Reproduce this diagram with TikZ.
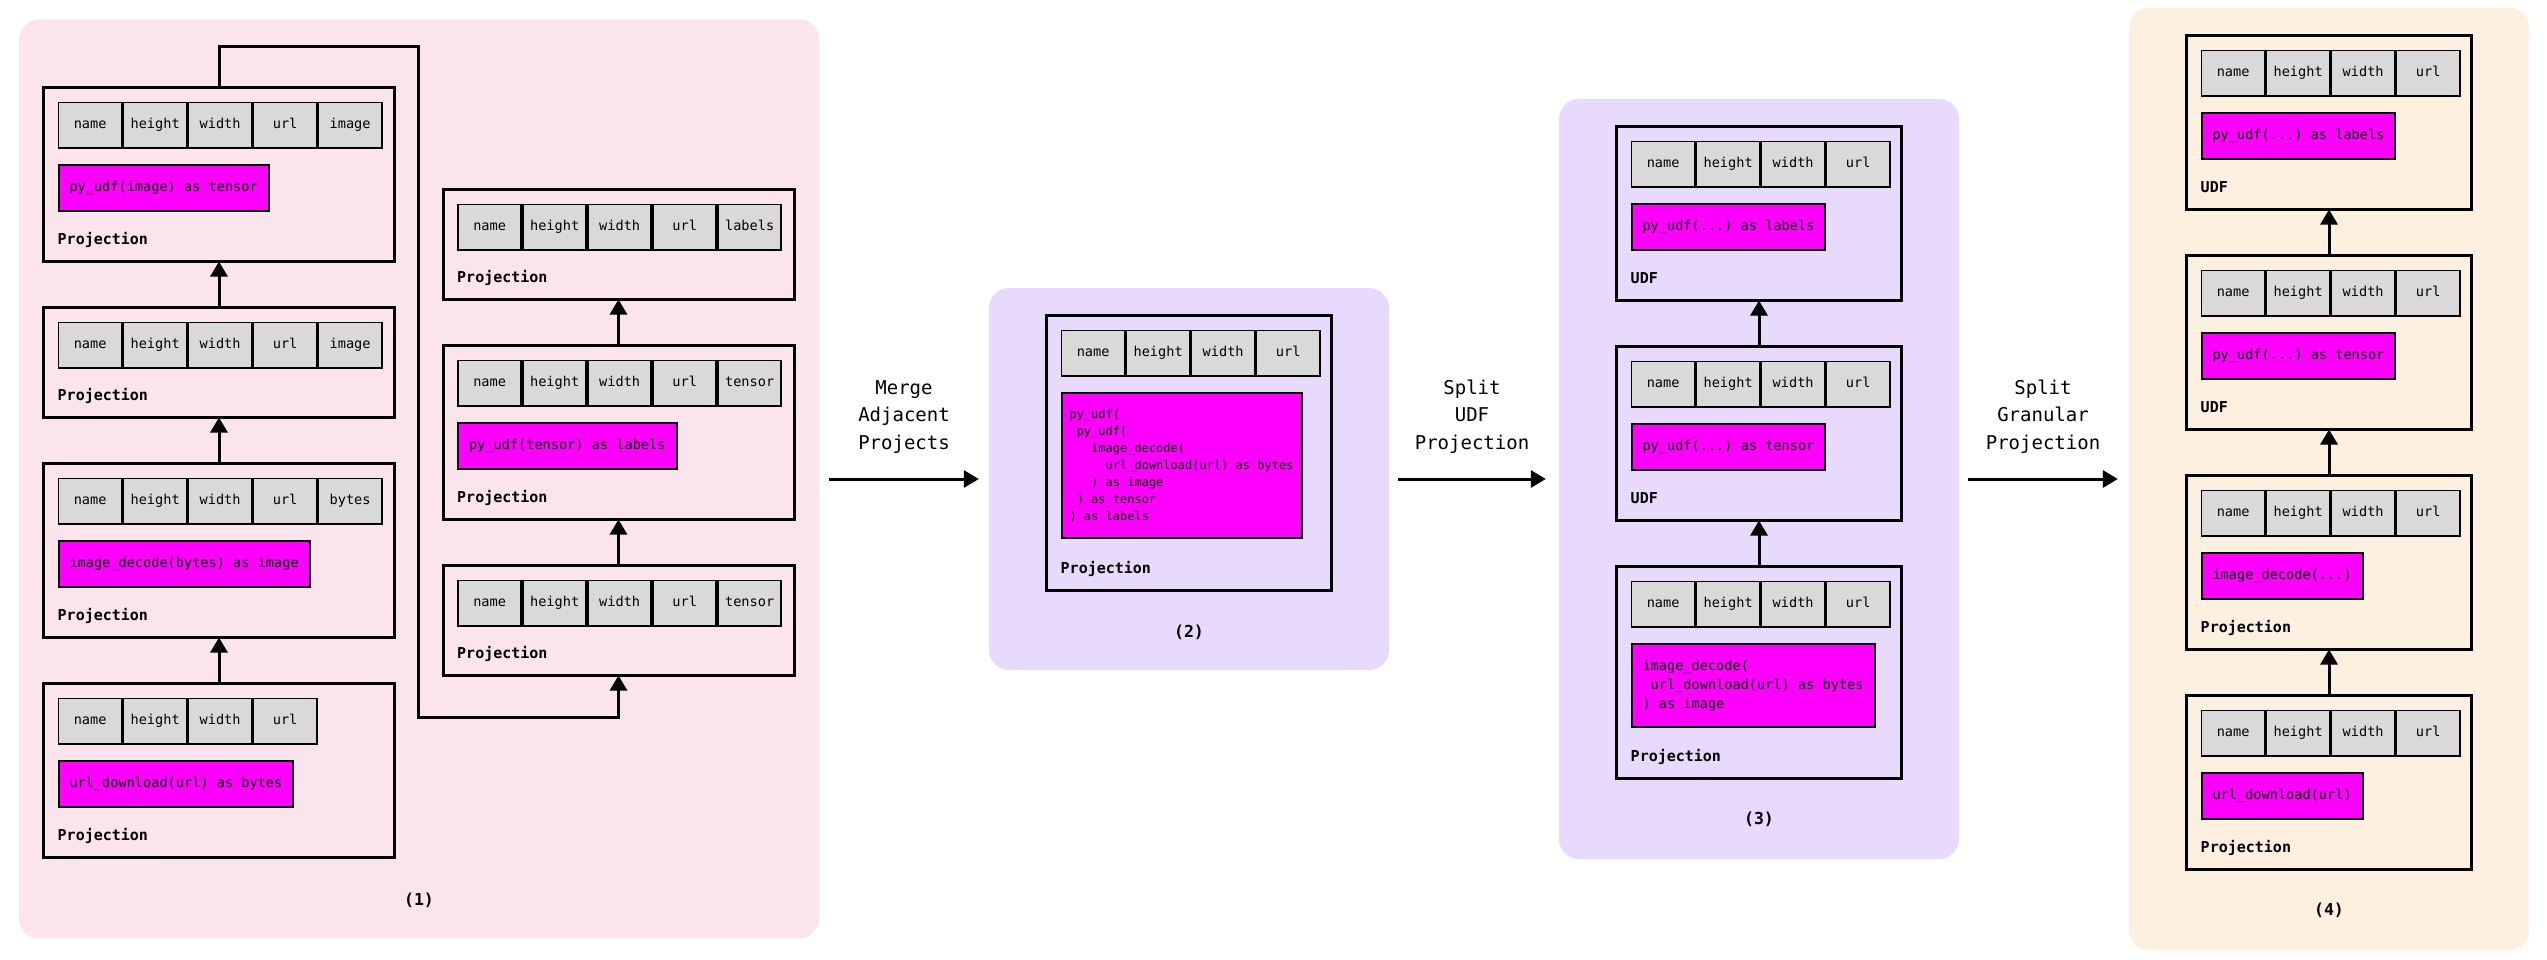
\documentclass[tikz,border=0pt]{standalone}
\usepackage{fontspec}
\setmonofont{DejaVu Sans Mono}
\usetikzlibrary{arrows.meta, positioning, backgrounds, calc}

\definecolor{planpink}{HTML}{FBE4EB}
\definecolor{planlilac}{HTML}{E8DAFC}
\definecolor{plancream}{HTML}{FEF0E0}
\definecolor{cellgray}{HTML}{D9D9D9}
\definecolor{udfmagenta}{HTML}{FF00FF}

% one row of column cells inside an operator box
\newcommand{\fields}[2]{%
  \foreach \fld [count=\i] in {#2}
    \node[field, anchor=north west] (#1-f\i) at ([xshift={15+65*(\i-1)}, yshift=-15]#1.north west) {\fld};%
}

\begin{document}
\begin{tikzpicture}[
    x=1pt, y=1pt,
    node distance=46pt,
    opbox/.style={rectangle, draw, line width=3pt, minimum width=351pt, minimum height=174pt, inner sep=0pt, outer sep=0pt},
    shortbox/.style={opbox, minimum height=110pt},
    narrowbox/.style={opbox, minimum width=285pt},
    field/.style={rectangle, draw, line width=1.7pt, fill=cellgray, minimum width=63.3pt, minimum height=45.3pt, inner sep=0pt, outer sep=0pt, text height=10pt, text depth=3pt, font=\ttfamily\fontsize{13.6}{17}\selectfont},
    udf/.style={rectangle, draw, line width=2pt, fill=udfmagenta, minimum height=46pt, inner xsep=11pt, inner ysep=0pt, outer sep=0pt, align=left, anchor=north west, font=\ttfamily\fontsize{13.6}{17}\selectfont},
    oplabel/.style={font=\ttfamily\bfseries\fontsize{15}{18}\selectfont, inner sep=0pt, anchor=west},
    paneltag/.style={font=\ttfamily\bfseries\fontsize{16.5}{20}\selectfont, inner sep=0pt},
    steptext/.style={font=\ttfamily\fontsize{19}{27.5}\selectfont, align=center, inner sep=0pt},
    arrow/.style={-{Triangle[length=15pt, width=17pt]}, line width=3pt},
    panel/.style={rectangle, rounded corners=20pt, inner sep=0pt},
]
\useasboundingbox (0,0) rectangle (2547,-959);

% ============ (1): original plan ============
\node[opbox, anchor=north] (a1) at (219,-87.5) {};
\fields{a1}{name,height,width,url,image}
\node[udf] (a1-u) at ([yshift=-17pt]a1-f1.south west) {py\_udf(image) as tensor};
\node[oplabel] (a1-l) at ([xshift=14pt, yshift=22pt]a1.south west) {Projection};

\node[shortbox, below=of a1] (a2) {};
\fields{a2}{name,height,width,url,image}
\node[oplabel] (a2-l) at ([xshift=14pt, yshift=22pt]a2.south west) {Projection};

\node[opbox, below=of a2] (a3) {};
\fields{a3}{name,height,width,url,bytes}
\node[udf] (a3-u) at ([yshift=-17pt]a3-f1.south west) {image\_decode(bytes) as image};
\node[oplabel] (a3-l) at ([xshift=14pt, yshift=22pt]a3.south west) {Projection};

\node[opbox, below=of a3] (a4) {};
\fields{a4}{name,height,width,url}
\node[udf] (a4-u) at ([yshift=-17pt]a4-f1.south west) {url\_download(url) as bytes};
\node[oplabel] (a4-l) at ([xshift=14pt, yshift=22pt]a4.south west) {Projection};

\node[shortbox, anchor=north] (b3) at (618.5,-189.5) {};
\fields{b3}{name,height,width,url,labels}
\node[oplabel] (b3-l) at ([xshift=14pt, yshift=22pt]b3.south west) {Projection};

\node[opbox, below=of b3] (b2) {};
\fields{b2}{name,height,width,url,tensor}
\node[udf] (b2-u) at ([yshift=-17pt]b2-f1.south west) {py\_udf(tensor) as labels};
\node[oplabel] (b2-l) at ([xshift=14pt, yshift=22pt]b2.south west) {Projection};

\node[shortbox, below=of b2] (b1) {};
\fields{b1}{name,height,width,url,tensor}
\node[oplabel] (b1-l) at ([xshift=14pt, yshift=22pt]b1.south west) {Projection};

\node[paneltag] (tag1) at (419,-900) {(1)};

% (1) arrows
\draw[arrow] (a4) -- (a3);
\draw[arrow] (a3) -- (a2);
\draw[arrow] (a2) -- (a1);
\coordinate (back) at (418,-717);
\draw[arrow] (a1.north) -- ++(0,41.5) -| (back) -| (b1.south);
\draw[arrow] (b1) -- (b2);
\draw[arrow] (b2) -- (b3);

% ============ (2): merged projection ============
\node[narrowbox, minimum height=275pt, anchor=north] (p2) at (1189,-315.5) {};
\fields{p2}{name,height,width,url}
\node[udf, minimum width=240pt, minimum height=145pt, inner xsep=0pt, font=\ttfamily\fontsize{12}{17}\selectfont] (p2-u) at ([yshift=-17pt]p2-f1.south west)
  {py\_udf(\\\phantom{x}py\_udf(\\\phantom{xxx}image\_decode(\\\phantom{xxxxx}url\_download(url) as bytes\\\phantom{xxx}) as image\\\phantom{x}) as tensor\\) as labels};
\node[oplabel] (p2-l) at ([xshift=14pt, yshift=22pt]p2.south west) {Projection};
\node[paneltag] (tag2) at ([yshift=-41.5pt]p2.south) {(2)};

% ============ (3): UDF split ============
\node[narrowbox, anchor=north] (c1) at (1759,-126.5) {};
\fields{c1}{name,height,width,url}
\node[udf] (c1-u) at ([yshift=-17pt]c1-f1.south west) {py\_udf(...) as labels};
\node[oplabel] (c1-l) at ([xshift=14pt, yshift=22pt]c1.south west) {UDF};

\node[narrowbox, below=of c1] (c2) {};
\fields{c2}{name,height,width,url}
\node[udf] (c2-u) at ([yshift=-17pt]c2-f1.south west) {py\_udf(...) as tensor};
\node[oplabel] (c2-l) at ([xshift=14pt, yshift=22pt]c2.south west) {UDF};

\node[narrowbox, minimum height=212pt, below=of c2] (c3) {};
\fields{c3}{name,height,width,url}
\node[udf, minimum height=83pt, font=\ttfamily\fontsize{13.6}{19}\selectfont] (c3-u) at ([yshift=-17pt]c3-f1.south west)
  {image\_decode(\\\phantom{x}url\_download(url) as bytes\\) as image};
\node[oplabel] (c3-l) at ([xshift=14pt, yshift=22pt]c3.south west) {Projection};
\node[paneltag] (tag3) at ([yshift=-41pt]c3.south) {(3)};

\draw[arrow] (c3) -- (c2);
\draw[arrow] (c2) -- (c1);

% ============ (4): granular split ============
\node[narrowbox, anchor=north] (d1) at (2329,-35.5) {};
\fields{d1}{name,height,width,url}
\node[udf] (d1-u) at ([yshift=-17pt]d1-f1.south west) {py\_udf(...) as labels};
\node[oplabel] (d1-l) at ([xshift=14pt, yshift=22pt]d1.south west) {UDF};

\node[narrowbox, below=of d1] (d2) {};
\fields{d2}{name,height,width,url}
\node[udf] (d2-u) at ([yshift=-17pt]d2-f1.south west) {py\_udf(...) as tensor};
\node[oplabel] (d2-l) at ([xshift=14pt, yshift=22pt]d2.south west) {UDF};

\node[narrowbox, below=of d2] (d3) {};
\fields{d3}{name,height,width,url}
\node[udf] (d3-u) at ([yshift=-17pt]d3-f1.south west) {image\_decode(...)};
\node[oplabel] (d3-l) at ([xshift=14pt, yshift=22pt]d3.south west) {Projection};

\node[narrowbox, below=of d3] (d4) {};
\fields{d4}{name,height,width,url}
\node[udf] (d4-u) at ([yshift=-17pt]d4-f1.south west) {url\_download(url)};
\node[oplabel] (d4-l) at ([xshift=14pt, yshift=22pt]d4.south west) {Projection};
\node[paneltag] (tag4) at ([yshift=-41pt]d4.south) {(4)};

\draw[arrow] (d4) -- (d3);
\draw[arrow] (d3) -- (d2);
\draw[arrow] (d2) -- (d1);

% ============ Background panels ============
\begin{scope}[on background layer]
    \node[panel, fill=planpink, minimum width=800pt, minimum height=919pt] (panel1) at (419,-479) {};
    \node[panel, fill=planlilac, minimum width=400pt, minimum height=382pt] (panel2) at (1189,-479) {};
    \node[panel, fill=planlilac, minimum width=400pt, minimum height=760pt] (panel3) at (1759,-479) {};
    \node[panel, fill=plancream, minimum width=400pt, minimum height=943pt] (panel4) at (2329,-479) {};
\end{scope}

% rewrite steps between panels
\draw[arrow] ([xshift=10pt]panel1.east) -- node[steptext, above=24.5pt] {Merge\\Adjacent\\Projects} ([xshift=-10pt]panel2.west);
\draw[arrow] ([xshift=9pt]panel2.east) -- node[steptext, above=24.5pt] {Split\\UDF\\Projection} ([xshift=-13pt]panel3.west);
\draw[arrow] ([xshift=9pt]panel3.east) -- node[steptext, above=24.5pt] {Split\\Granular\\Projection} ([xshift=-11pt]panel4.west);

\end{tikzpicture}
\end{document}
